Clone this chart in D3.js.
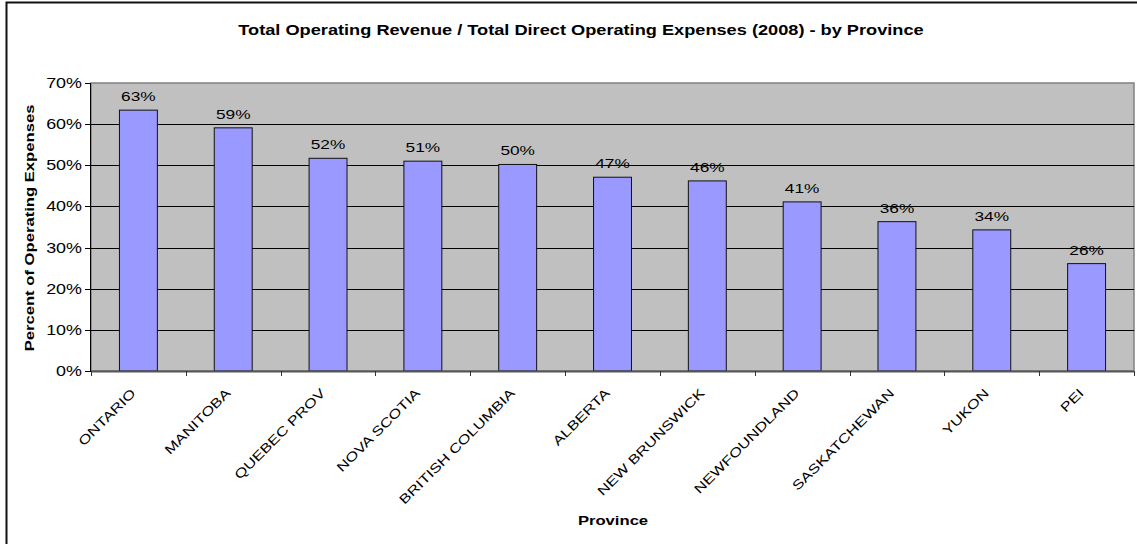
<!DOCTYPE html>
<html>
<head>
<meta charset="utf-8">
<script src="https://cdn.jsdelivr.net/npm/d3@7"></script>
<style>
  body { margin: 0; background: #fff; }
  text { font-family: "Liberation Sans", Arial, sans-serif; fill: #000; }
</style>
</head>
<body>
<div id="canvas"></div>
<script>
"use strict"

// DATA
let provinces = ["ONTARIO", "MANITOBA", "QUEBEC PROV", "NOVA SCOTIA", "BRITISH COLUMBIA",
  "ALBERTA", "NEW BRUNSWICK", "NEWFOUNDLAND", "SASKATCHEWAN", "YUKON", "PEI"]
let ratios = [0.634, 0.591, 0.517, 0.510, 0.502, 0.471, 0.462, 0.411, 0.363, 0.343, 0.261]
let yTicks = [0, 0.1, 0.2, 0.3, 0.4, 0.5, 0.6, 0.7]

let chartTitle = "Total Operating Revenue / Total Direct Operating Expenses (2008) - by Province"
let yTitle = "Percent of Operating Expenses"
let xTitle = "Province"

/* drawing config */
let svgWidth = 1137
let svgHeight = 544

let plotLeft = 91
let plotRight = 1134
let plotTop = 83
let plotBottom = 371

// the original text looks stretched along the baseline
let stretch = 1.28

let svg = d3.select("#canvas")
  .append("svg")
  .attr("width", svgWidth)
  .attr("height", svgHeight)

// outer chart border (cut off right and bottom)
svg.append("rect")
  .attr("x", 6.5)
  .attr("y", 2.5)
  .attr("width", svgWidth + 10)
  .attr("height", svgHeight + 10)
  .attr("fill", "white")
  .attr("stroke", "#111")
  .attr("stroke-width", 2)

// scales
let xScale = d3.scaleBand()
  .domain(provinces)
  .range([plotLeft, plotRight])
  .paddingInner(0.6)
  .paddingOuter(0.3)

let xStep = d3.scaleBand().domain(provinces).range([plotLeft, plotRight])

let yScale = d3.scaleLinear()
  .domain([0, 0.7])
  .range([plotBottom, plotTop])

// plot background
svg.append("rect")
  .attr("x", plotLeft)
  .attr("y", plotTop)
  .attr("width", plotRight - plotLeft)
  .attr("height", plotBottom - plotTop)
  .attr("fill", "#c0c0c0")
  .attr("stroke", "#808080")
  .attr("stroke-width", 1.5)

// gridlines
svg.selectAll("line.grid")
  .data(yTicks.filter(function (t) { return t > 0 && t < 0.7 }))
  .join("line")
  .attr("class", "grid")
  .attr("x1", plotLeft)
  .attr("x2", plotRight)
  .attr("y1", function (d) { return Math.round(yScale(d)) + 0.5 })
  .attr("y2", function (d) { return Math.round(yScale(d)) + 0.5 })
  .attr("stroke", "#000")
  .attr("stroke-width", 1)

// bars
svg.selectAll("rect.bar")
  .data(ratios)
  .join("rect")
  .attr("class", "bar")
  .attr("x", function (d, i) { return xScale(provinces[i]) })
  .attr("y", function (d) { return yScale(d) })
  .attr("width", xScale.bandwidth())
  .attr("height", function (d) { return plotBottom - yScale(d) })
  .attr("fill", "#9999ff")
  .attr("stroke", "#111")
  .attr("stroke-width", 1)

// data labels
svg.selectAll("text.val")
  .data(ratios)
  .join("text")
  .attr("class", "val")
  .attr("transform", function (d, i) {
    let x = xScale(provinces[i]) + xScale.bandwidth() / 2
    return "translate(" + x + "," + (yScale(d) - 9) + ") scale(" + stretch + ",1)"
  })
  .attr("text-anchor", "middle")
  .style("font-size", "13.5px")
  .text(function (d) { return d3.format(".0%")(d) })

// y axis line + ticks + labels
svg.append("line")
  .attr("x1", plotLeft - 0.5)
  .attr("x2", plotLeft - 0.5)
  .attr("y1", plotTop)
  .attr("y2", plotBottom)
  .attr("stroke", "#000")

svg.selectAll("line.ytick")
  .data(yTicks)
  .join("line")
  .attr("class", "ytick")
  .attr("x1", plotLeft - 6)
  .attr("x2", plotLeft)
  .attr("y1", function (d) { return Math.round(yScale(d)) + 0.5 })
  .attr("y2", function (d) { return Math.round(yScale(d)) + 0.5 })
  .attr("stroke", "#000")

svg.selectAll("text.ylab")
  .data(yTicks)
  .join("text")
  .attr("class", "ylab")
  .attr("text-anchor", "end")
  .attr("transform", function (d) {
    return "translate(" + (plotLeft - 9) + "," + (yScale(d) + 5) + ") scale(" + stretch + ",1)"
  })
  .style("font-size", "14px")
  .text(function (d) { return d3.format(".0%")(d) })

// x axis line + ticks at category boundaries
svg.append("line")
  .attr("x1", plotLeft)
  .attr("x2", plotRight)
  .attr("y1", plotBottom + 0.5)
  .attr("y2", plotBottom + 0.5)
  .attr("stroke", "#555")
  .attr("stroke-width", 2)

let bounds = provinces.map(function (p) { return xStep(p) }).concat([plotRight])
svg.selectAll("line.xtick")
  .data(bounds)
  .join("line")
  .attr("class", "xtick")
  .attr("x1", function (d) { return Math.round(d) + 0.5 })
  .attr("x2", function (d) { return Math.round(d) + 0.5 })
  .attr("y1", plotBottom)
  .attr("y2", plotBottom + 5)
  .attr("stroke", "#333")

// category labels, rotated
svg.selectAll("text.cat")
  .data(provinces)
  .join("text")
  .attr("class", "cat")
  .attr("text-anchor", "end")
  .attr("transform", function (d) {
    let cx = xStep(d) + xStep.bandwidth() / 2
    return "translate(" + (cx - 2) + "," + (plotBottom + 23) + ") rotate(-45) scale(" + stretch + ",1)"
  })
  .style("font-size", "13px")
  .text(function (d) { return d })

// titles
svg.append("text")
  .attr("transform", "translate(581,35) scale(1.3,1)")
  .attr("text-anchor", "middle")
  .style("font-size", "14px")
  .style("font-weight", "bold")
  .text(chartTitle)

svg.append("text")
  .attr("transform", "translate(34," + ((plotTop + plotBottom) / 2 + 1) + ") rotate(-90) scale(" + stretch + ",1)")
  .attr("text-anchor", "middle")
  .style("font-size", "13px")
  .style("font-weight", "bold")
  .text(yTitle)

svg.append("text")
  .attr("transform", "translate(613,525) scale(" + stretch + ",1)")
  .attr("text-anchor", "middle")
  .style("font-size", "13px")
  .style("font-weight", "bold")
  .text(xTitle)
</script>
</body>
</html>
